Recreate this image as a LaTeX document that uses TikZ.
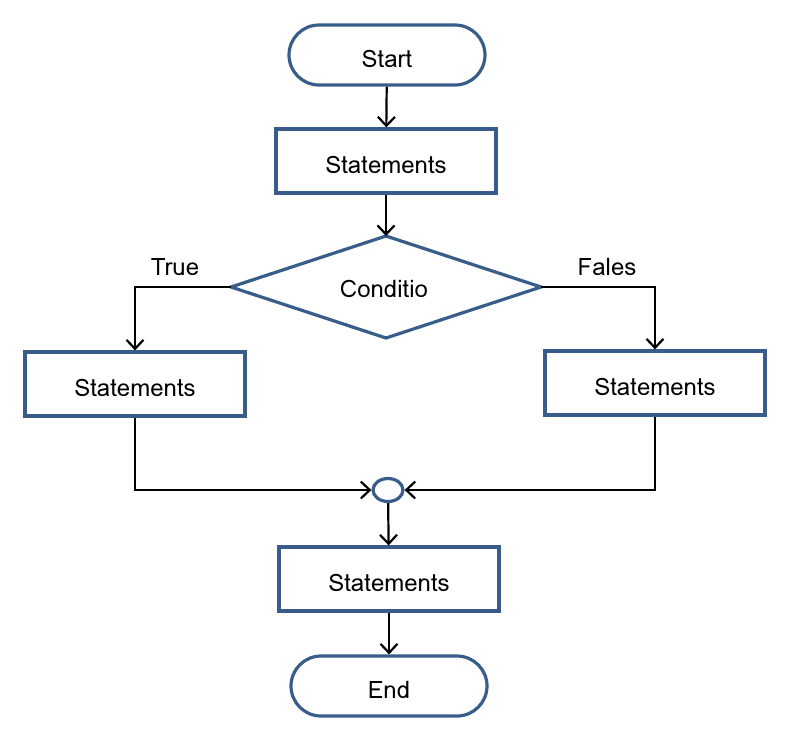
\documentclass[tikz,border=0pt]{standalone}
\usepackage{fontspec}
\setmainfont{Loma}
\usetikzlibrary{shapes.geometric,arrows.meta}
\definecolor{bord}{RGB}{56,93,138}
\newcommand{\lowtxt}[1]{\raisebox{-4pt}[\height][\depth]{#1}}
\begin{document}
\begin{tikzpicture}[x=1pt,y=-1pt,
  every node/.style={font=\fontsize{24}{28}\selectfont},
  term/.style={draw=bord,line width=3.2pt,rounded corners=30pt,minimum width=196pt,minimum height=60pt,fill=white},
  stbox/.style={draw=bord,line width=3.2pt,minimum width=220pt,minimum height=64pt,fill=white},
  conn/.style={draw=black,line width=2.2pt,-{Straight Barb[length=9pt,width=17pt,line width=2.2pt]}}]
\useasboundingbox (0,0) rectangle (789,732);
\node[term] (start) at (387,55) {\lowtxt{Start}};
\node[stbox] (s1) at (386,161) {\lowtxt{Statements}};
\coordinate (dT) at (386,236);
\coordinate (dL) at (231,287);
\coordinate (dR) at (541,287);
\coordinate (dB) at (386,338);
\draw[bord,line width=3.2pt,line join=miter] (dT) -- (dR) -- (dB) -- (dL) -- cycle;
\node (cond) at (384,289) {Conditio};
\node[stbox] (sL) at (135,384) {\lowtxt{Statements}};
\node[stbox] (sR) at (655,383) {\lowtxt{Statements}};
\node[draw=bord,line width=3.2pt,ellipse,minimum width=30pt,minimum height=23pt,inner sep=0pt] (j) at (388,490) {};
\node[stbox] (s3) at (389,579) {\lowtxt{Statements}};
\node[term] (end) at (389,686) {\lowtxt{End}};
\node (true) at (175,267) {True};
\node (fales) at (607,267) {Fales};
\coordinate (cL) at (135,287);
\coordinate (cR) at (655,287);
\coordinate (bL) at (135,490);
\coordinate (bR) at (655,490);
\draw[conn] (start) -- (s1);
\draw[conn] (s1) -- (dT);
\draw[conn] (dL) -- (cL) -- (sL);
\draw[conn] (dR) -- (cR) -- (sR);
\draw[conn] (sL) -- (bL) -- (j);
\draw[conn] (sR) -- (bR) -- (j);
\draw[conn] (j) -- (s3);
\draw[conn] (s3) -- (end);
\end{tikzpicture}
\end{document}
